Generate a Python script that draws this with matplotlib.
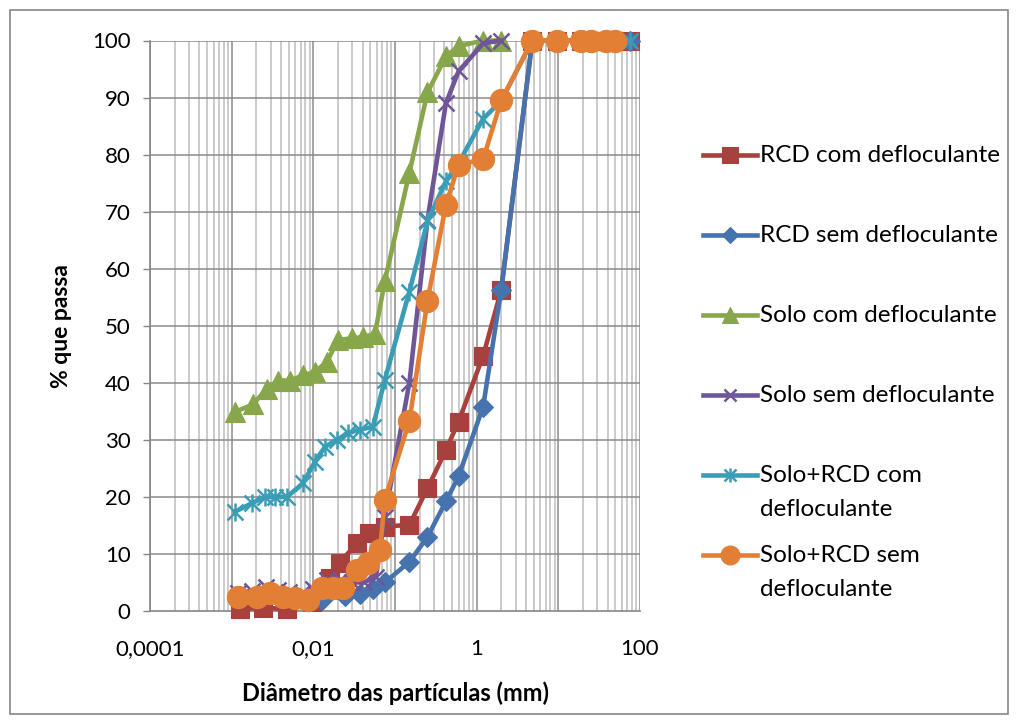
import numpy as np
import matplotlib
matplotlib.use("Agg")
import matplotlib.pyplot as plt
from matplotlib.ticker import FixedLocator, NullFormatter
from matplotlib.patches import Rectangle

plt.rcParams['font.family'] = ['Lato', 'DejaVu Sans']

# peneiras (mm) comuns a todas as curvas
peneiras = [0.075, 0.15, 0.25, 0.42, 0.6, 1.2, 2.0, 4.8, 9.5, 19, 25, 38, 50, 76]

# RCD com defloculante
rcd_com_d = [0.00126, 0.00242, 0.00475, 0.00964, 0.0160, 0.0212, 0.0343, 0.0481] + peneiras
rcd_com_p = [0.3, 0.6, 0.3, 1.5, 5.8, 8.5, 11.9, 13.6,
             14.8, 15.1, 21.5, 28.2, 33.2, 44.7, 56.3, 100, 100, 100, 100, 100, 100, 100]

# RCD sem defloculante
rcd_sem_d = [0.0128, 0.0244, 0.0372, 0.0537] + peneiras
rcd_sem_p = [2.0, 2.6, 3.0, 3.8,
             5.0, 8.6, 13.0, 19.2, 23.6, 35.8, 56.3, 100, 100, 100, 100, 100, 100, 100]

# Solo com defloculante
solo_com_d = [0.00110, 0.00182, 0.00271, 0.00369, 0.00518, 0.00746, 0.0105, 0.0147,
              0.0200, 0.0297, 0.0406, 0.0569] + peneiras[:7]
solo_com_p = [34.9, 36.2, 39.0, 40.4, 40.4, 41.3, 41.9, 43.7, 47.5, 47.8, 48.0, 48.6,
              57.8, 76.8, 90.9, 97.2, 99.0, 100, 100]

# Solo sem defloculante
solo_sem_d = [0.00120, 0.00177, 0.00263, 0.00369, 0.00503, 0.00706, 0.00991, 0.0147,
              0.0212, 0.0297, 0.0417, 0.0585] + peneiras[:7]
solo_sem_p = [3.2, 3.5, 4.2, 3.6, 3.3, 3.0, 3.8, 5.5, 5.5, 5.0, 5.0, 6.0,
              16.5, 40.0, 68.6, 89.0, 94.6, 99.5, 100]

# Solo+RCD com defloculante
mist_com_d = [0.00110, 0.00177, 0.00256, 0.00340, 0.00475, 0.00746, 0.0105, 0.0139,
              0.0195, 0.0266, 0.0372, 0.0537] + peneiras
mist_com_p = [17.4, 18.9, 20.0, 20.0, 20.0, 22.4, 26.2, 28.8, 30.0, 31.2, 31.8, 32.3,
              40.5, 56.0, 68.3, 75.3, 78.5, 86.3, 89.4, 100, 100, 100, 100, 100, 100, 100]

# Solo+RCD sem defloculante
mist_sem_d = [0.00120, 0.00204, 0.00294, 0.00425, 0.00595, 0.00861, 0.0128, 0.0174,
              0.0231, 0.0343, 0.0467, 0.0655] + peneiras[:13]
mist_sem_p = [2.5, 2.5, 3.1, 2.5, 2.2, 1.9, 4.0, 4.0, 4.0, 7.2, 8.4, 10.7,
              19.5, 33.3, 54.4, 71.2, 78.2, 79.2, 89.5, 100, 100, 100, 100, 100, 100]

series = [
    ("RCD com defloculante", rcd_com_d, rcd_com_p, "#A8413E", "s", 13),
    ("RCD sem defloculante", rcd_sem_d, rcd_sem_p, "#4673AE", "D", 10),
    ("Solo com defloculante", solo_com_d, solo_com_p, "#88A64A", "^", 14),
    ("Solo sem defloculante", solo_sem_d, solo_sem_p, "#6E5699", "x", 11),
    ("Solo+RCD com\ndefloculante", mist_com_d, mist_com_p, "#3A9DB6", "*", 11),
    ("Solo+RCD sem\ndefloculante", mist_sem_d, mist_sem_p, "#E37F35", "o", 16),
]

LW = 3.3
W, H = 1018, 724
fig = plt.figure(figsize=(W / 100, H / 100), dpi=100)
ax = fig.add_axes([150 / W, 1 - 611 / H, 490 / W, 570.5 / H])


def desenha(alvo, x, y, cor, mk, ms, linha=True):
    # asterisco do Excel = x + barra vertical
    lw = LW if linha else 0
    if mk == "*":
        alvo.plot(x, y, color=cor, lw=lw, marker="x", ms=ms, mew=1.8, clip_on=False, zorder=3)
        alvo.plot(x, y, color=cor, lw=0, marker="|", ms=ms * 1.15, mew=1.8, clip_on=False, zorder=3)
    else:
        alvo.plot(x, y, color=cor, lw=lw, marker=mk, ms=ms, mew=1.8 if mk == "x" else 0.8,
                  mec=cor, mfc=cor, clip_on=False, zorder=3)


for label, d, p, cor, mk, ms in series:
    desenha(ax, d, p, cor, mk, ms)

ax.set_xscale("log")
ax.set_xlim(1e-4, 100)
ax.set_ylim(0, 100)

decadas = [10.0 ** k for k in range(-4, 3)]
sub = [m * 10.0 ** k for k in range(-4, 2) for m in range(2, 10)]
ax.xaxis.set_major_locator(FixedLocator([1e-4, 1e-2, 1, 100]))
ax.set_xticklabels(["0,0001", "0,01", "1", "100"])
ax.xaxis.set_minor_locator(FixedLocator(sub))
ax.xaxis.set_minor_formatter(NullFormatter())
for xv in decadas:
    ax.axvline(xv, color="#8a8a8a", lw=1.1, zorder=1)
for xv in sub:
    ax.axvline(xv, color="#bdbdbd", lw=1.1, zorder=1)
ax.set_yticks(np.arange(0, 101, 10))
for yv in range(10, 101, 10):
    ax.axhline(yv, color="#8a8a8a", lw=1.1, zorder=1)

ax.tick_params(axis="x", which="both", length=0, pad=20, labelsize=16)
ax.tick_params(axis="y", length=5, width=1, color="#868686", pad=9, labelsize=16)
for s in ["top", "right"]:
    ax.spines[s].set_visible(False)
for s in ["left", "bottom"]:
    ax.spines[s].set_color("#868686")
    ax.spines[s].set_linewidth(1.2)

ax.set_xlabel("Diâmetro das partículas (mm)", fontsize=17, fontweight="bold", labelpad=16)
ax.set_ylabel("% que passa", fontsize=16.5, fontweight="bold", labelpad=14)

# legenda à direita, uma entrada a cada 80 px
fig_leg = fig.add_axes([0, 0, 1, 1], facecolor="none")
fig_leg.set_xlim(0, W)
fig_leg.set_ylim(H, 0)
fig_leg.axis("off")
for i, (label, d, p, cor, mk, ms) in enumerate(series):
    yl = 155 + 80 * i
    fig_leg.plot([703, 757], [yl, yl], color=cor, lw=LW, clip_on=False)
    desenha(fig_leg, [730], [yl], cor, mk, ms * 0.85, linha=False)
    for j, linha in enumerate(label.split("\n")):
        fig_leg.text(760, yl + 35 * j, linha, fontsize=17.5, va="center", ha="left")

fig.add_artist(Rectangle((10 / W, 10 / H), 1 - 20 / W, 1 - 20 / H, transform=fig.transFigure,
                         fill=False, ec="#868686", lw=1.2))

fig.savefig("out.png", dpi=100)
